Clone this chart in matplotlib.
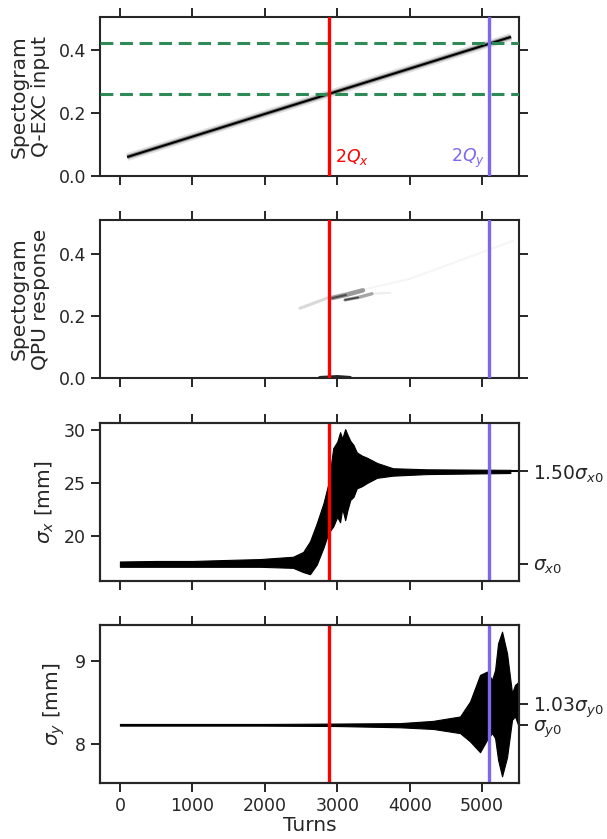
import numpy as np
import matplotlib
matplotlib.use("Agg")
import matplotlib.pyplot as plt

# DATA
tune_turns = [100, 5400]
tune_q = [0.06, 0.44]
q_lines = [0.26, 0.42]
turn_qx = 2890
turn_qy = 5100

# QPU response streaks: turns, tune, grey level, width
streak_a_turns = [2486, 2887, 3356, 4000, 4700, 5428]
streak_a_q = [0.225, 0.26, 0.285, 0.32, 0.38, 0.443]
dark_a_turns = [2930, 3120, 3356]
dark_a_q = [0.258, 0.268, 0.283]
dark_b_turns = [3108, 3290, 3480]
dark_b_q = [0.252, 0.26, 0.272]
faint_b_turns = [3480, 3730]
faint_b_q = [0.272, 0.275]
blob_turns = [2760, 3000, 3180]
blob_q = [0.001, 0.004, 0.001]

sx_turns = [0, 500, 1000, 1500, 1934, 2390, 2530, 2624, 2717, 2810, 2880, 2945, 3000, 3040, 3070, 3110, 3140, 3180,
            3225, 3270, 3340, 3410, 3550, 3770, 4240, 5390]
sx_up = [17.6, 17.65, 17.65, 17.75, 17.83, 18.05, 18.5, 19.5, 21.2, 23.1, 25.0, 28.3, 28.9, 29.8, 29.2, 30.1, 29.6, 29.0,
         28.6, 27.9, 27.6, 27.4, 26.9, 26.4, 26.3, 26.25]
sx_lo = [17.1, 17.1, 17.1, 17.1, 17.1, 17.0, 16.6, 16.4, 17.3, 18.9, 20.3, 20.9, 21.8, 21.3, 22.6, 21.5, 22.4, 23.4,
         23.7, 24.5, 24.7, 25.0, 25.5, 25.7, 25.85, 25.95]
sx_tail_turns = [5390, 5500]
sx_tail = [26.1, 26.1]
sx_ref = [17.4, 26.1]
sx_ref_labels = [r"$\sigma_{x0}$", r"1.50$\sigma_{x0}$"]

sy_turns = [0, 2000, 3000, 3867, 4323, 4696, 4834, 4972, 5069, 5138, 5180, 5221, 5276, 5345, 5414, 5455, 5510]
sy_up = [8.24, 8.24, 8.245, 8.25, 8.277, 8.33, 8.51, 8.83, 8.87, 8.77, 8.89, 9.21, 9.35, 9.09, 8.61, 8.71, 8.75]
sy_lo = [8.22, 8.22, 8.215, 8.20, 8.18, 8.13, 8.03, 7.90, 8.05, 8.13, 8.07, 7.81, 7.61, 7.84, 8.29, 8.33, 8.20]
sy_ref = [8.23, 8.48]
sy_ref_labels = [r"$\sigma_{y0}$", r"1.03$\sigma_{y0}$"]

xticks = [0, 1000, 2000, 3000, 4000, 5000]

# STYLE
dark = "#262626"
plt.rcParams["font.family"] = "DejaVu Sans"
plt.rcParams["mathtext.fontset"] = "dejavusans"
plt.rcParams["text.color"] = dark
plt.rcParams["axes.labelcolor"] = dark
plt.rcParams["xtick.color"] = dark
plt.rcParams["ytick.color"] = dark
plt.rcParams["axes.edgecolor"] = dark
plt.rcParams["axes.linewidth"] = 1.5

W, H = 607, 839
fig = plt.figure(figsize=(W / 100, H / 100), dpi=100)


def make_axes(top, bottom, xlim=(-275, 5510)):
    ax = fig.add_axes([100 / W, 1 - bottom / H, 419 / W, (bottom - top) / H])
    ax.set_xlim(*xlim)
    ax.set_xticks(xticks)
    ax.tick_params(axis="both", which="major", length=6.5, width=1.4, labelsize=12.5, top=True, bottom=True)
    ax.tick_params(axis="x", labelbottom=False)
    ax.axvline(turn_qx, color="red", lw=2.4, zorder=5)
    ax.axvline(turn_qy, color="mediumslateblue", lw=2.4, zorder=5)
    return ax


def right_ticks(ax, ticks, labels):
    tw = ax.twinx()
    tw.set_ylim(ax.get_ylim())
    tw.set_yticks(ticks)
    tw.set_yticklabels(labels)
    tw.tick_params(axis="y", length=6.5, width=1.4, labelsize=13.5)
    return tw


# Panel 1: input spectrogram
ax1 = make_axes(17, 176)
ax1.set_ylim(0, 0.503)
ax1.plot(tune_turns, tune_q, color="0.88", lw=5.5, solid_capstyle="butt", zorder=2)
ax1.plot(tune_turns, tune_q, color="0.55", lw=3.0, solid_capstyle="butt", zorder=2)
ax1.plot(tune_turns, tune_q, color="black", lw=1.5, solid_capstyle="butt", zorder=2)
for q in q_lines:
    ax1.axhline(q, color="seagreen", ls=(0, (4.2, 2.2)), lw=2.2, zorder=3)
ax1.set_yticks([0, 0.2, 0.4])
ax1.set_yticklabels(["0.0", "0.2", "0.4"])
ax1.tick_params(axis="y", right=True)
ax1.set_ylabel("Spectogram\nQ-EXC input", fontsize=14.5, labelpad=6)
ax1.text(2965, 0.045, r"$2Q_x$", color="red", fontsize=12.5)
ax1.text(5045, 0.045, r"$2Q_y$", color="mediumslateblue", fontsize=12.5, ha="right")

# Panel 2: response spectrogram
ax2 = make_axes(220, 378)
ax2.set_ylim(0, 0.51)
ax2.plot(streak_a_turns[:3], streak_a_q[:3], color="0.85", lw=2.2, solid_capstyle="round", zorder=2)
ax2.plot(streak_a_turns[2:], streak_a_q[2:], color="0.96", lw=1.5, solid_capstyle="round", zorder=2)
ax2.plot(faint_b_turns, faint_b_q, color="0.93", lw=1.5, zorder=2)
ax2.plot(dark_a_turns, dark_a_q, color="0.6", lw=3.2, solid_capstyle="round", zorder=3)
ax2.plot(dark_a_turns[:2], dark_a_q[:2], color="0.3", lw=1.5, solid_capstyle="round", zorder=3)
ax2.plot(dark_b_turns, dark_b_q, color="0.65", lw=2.4, solid_capstyle="round", zorder=3)
ax2.plot(dark_b_turns[:2], dark_b_q[:2], color="0.25", lw=1.2, solid_capstyle="round", zorder=3)
ax2.plot(blob_turns, blob_q, color="0.15", lw=2.5, solid_capstyle="round", zorder=2)
ax2.set_yticks([0, 0.2, 0.4])
ax2.set_yticklabels(["0.0", "0.2", "0.4"])
ax2.tick_params(axis="y", right=True)
ax2.set_ylabel("Spectogram\nQPU response", fontsize=14.5, labelpad=6)

# Panel 3: horizontal beam size
ax3 = make_axes(423, 581)
ax3.set_ylim(15.76, 30.67)
ax3.fill_between(sx_turns, sx_lo, sx_up, color="black", lw=0.8, zorder=2)
ax3.plot(sx_tail_turns, sx_tail, color="black", lw=1.5, zorder=2)
ax3.set_yticks([20, 25, 30])
ax3.set_ylabel(r"$\sigma_x$ [mm]", fontsize=14.5, labelpad=6)
right_ticks(ax3, sx_ref, sx_ref_labels)

# Panel 4: vertical beam size
ax4 = make_axes(625, 783)
ax4.set_ylim(7.53, 9.43)
ax4.fill_between(sy_turns, sy_lo, sy_up, color="black", lw=0.8, zorder=2)
ax4.set_yticks([8, 9])
ax4.set_ylabel(r"$\sigma_y$ [mm]", fontsize=14.5, labelpad=6)
ax4.tick_params(axis="x", labelbottom=True)
ax4.set_xlabel("Turns", fontsize=14.5, labelpad=1)
right_ticks(ax4, sy_ref, sy_ref_labels)

fig.savefig("out.png", dpi=100)
